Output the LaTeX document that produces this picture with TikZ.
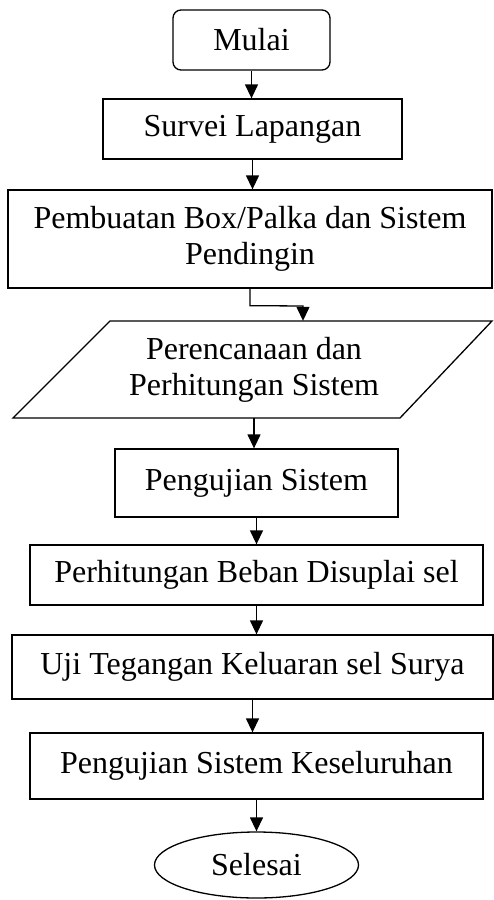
\documentclass[tikz,border=0pt]{standalone}
\usepackage{fontspec}
\setmainfont{Liberation Serif}
\usetikzlibrary{arrows.meta,shapes.geometric}
\begin{document}
\begin{tikzpicture}[x=1pt,y=-1pt,
  every node/.style={font=\fontsize{32}{36}\selectfont, inner sep=0pt, align=center},
  boxstyle/.style={draw, line width=1.3pt, rectangle},
  conn/.style={line width=1.3pt, -{Triangle[width=13pt,length=14pt]}}]
\useasboundingbox (0,0) rectangle (494,900);
\node[boxstyle, rounded corners=8pt, minimum width=157pt, minimum height=60pt] (mulai) at (251.5,40) {Mulai};
\node[boxstyle, minimum width=299pt, minimum height=60pt] (survei) at (252.5,129) {Survei Lapangan};
\node[boxstyle, minimum width=484pt, minimum height=98pt] (pemb) at (250,239) {Pembuatan Box/Palka dan Sistem\\Pendingin};
\draw[line width=1.3pt, line join=miter] (110,321) -- (492,321) -- (400,418) -- (13,418) -- cycle;
\node[minimum width=290pt, minimum height=97pt] (plan) at (254,369.5) {Perencanaan dan\\Perhitungan Sistem};
\node[boxstyle, minimum width=283pt, minimum height=68pt] (uji1) at (256.5,483) {Pengujian Sistem};
\node[boxstyle, minimum width=453pt, minimum height=60pt] (beban) at (256.5,575) {Perhitungan Beban Disuplai sel};
\node[boxstyle, minimum width=481pt, minimum height=64pt] (tegangan) at (252.5,667) {Uji Tegangan Keluaran sel Surya};
\node[boxstyle, minimum width=453pt, minimum height=66pt] (kesel) at (256.5,766) {Pengujian Sistem Keseluruhan};
\node[draw, ellipse, line width=1.3pt, minimum width=204pt, minimum height=66pt] (selesai) at (256.5,865) {Selesai};
\coordinate (bend) at (303,306);
\draw[conn] (mulai.south) -- (mulai.south |- survei.north);
\draw[conn] (survei.south) -- (survei.south |- pemb.north);
\draw[conn] (pemb.south) -- ++(0,17) -- (bend) -- (bend |- plan.north);
\draw[conn] (plan.south) -- (plan.south |- uji1.north);
\draw[conn] (uji1.south) -- (uji1.south |- beban.north);
\draw[conn] (beban.south) -- (beban.south |- tegangan.north);
\draw[conn] (tegangan.south) -- (tegangan.south |- kesel.north);
\draw[conn] (kesel.south) -- (selesai.north);
\end{tikzpicture}
\end{document}
